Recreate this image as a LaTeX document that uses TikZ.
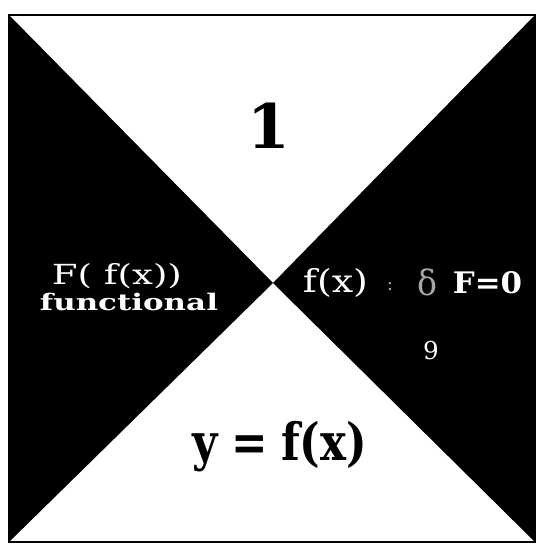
\documentclass[tikz,border=0pt]{standalone}
\usepackage{graphicx}
\usepackage{fontspec}
\setmainfont{DejaVu Serif}
\begin{document}
\begin{tikzpicture}[x=0.75pt,y=-0.75pt,
  lbl/.style={inner sep=0pt,outer sep=0pt,anchor=center},
  wtxt/.style={lbl,text=white},
  ftxt/.style={lbl,text=white!65!black}]
\useasboundingbox (0,0) rectangle (536,547);
\coordinate (tl) at (9,15);
\coordinate (tr) at (535,15);
\coordinate (bl) at (9,542);
\coordinate (br) at (535,542);
\coordinate (c) at (273,283);
\fill[white] (0,0) rectangle (536,547);
\fill[black] (tl) -- (c) -- (bl) -- cycle;
\fill[black] (tr) -- (c) -- (br) -- cycle;
\draw[black,line width=1.6pt] (tl) rectangle (br);
\node[lbl,font=\bfseries\fontsize{46}{50}\selectfont] (one) at (268.5,125.5) {1};
\node[wtxt] (Ff) at (117,276) {\resizebox*{97.5pt}{19pt}{F( f(x))}};
\node[wtxt] (fun) at (129,302) {\resizebox{133.5pt}{13pt}{\bfseries functional}};
\node[wtxt] (fx) at (335.5,282.5) {\resizebox*{48.75pt}{21.75pt}{f(x)}};
\node[ftxt,font=\fontsize{14}{16}\selectfont] (colon) at (390,287) {:};
\node[ftxt] (delta) at (427.5,282) {\resizebox{15pt}{20pt}{δ}};
\node[wtxt] (F0) at (487.5,283) {\resizebox{52pt}{16.5pt}{\bfseries F=0}};
\node[wtxt,font=\fontsize{18.5}{20}\selectfont] (nine) at (431,351) {9};
\node[lbl] (y) at (280,447) {\resizebox*{130.5pt}{38pt}{\bfseries y\hspace{0.3em}=\hspace{0.3em}f(x)}};
\end{tikzpicture}
\end{document}
